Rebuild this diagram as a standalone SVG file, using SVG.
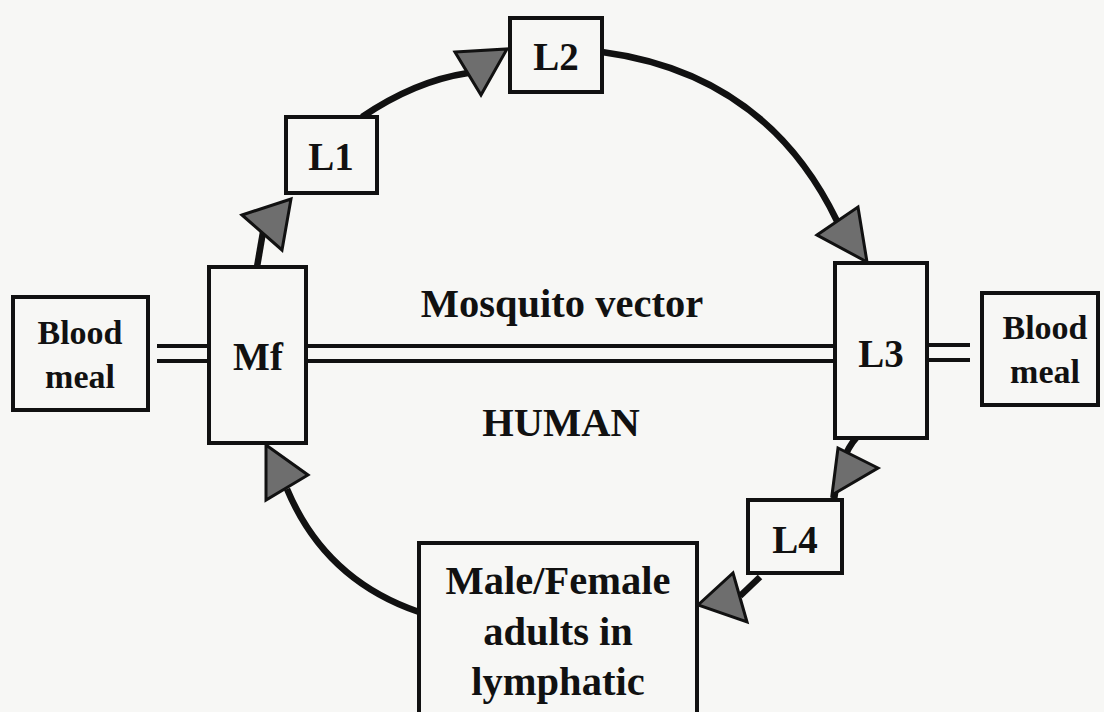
<svg xmlns="http://www.w3.org/2000/svg" width="1104" height="712" viewBox="0 0 1104 712">
<style>
.box{fill:#f7f7f5;stroke:#111;stroke-width:4}
.t{font-weight:bold;fill:#111;text-anchor:middle}
.big{font-size:39px}
.lg{font-size:40.5px}
.sm{font-size:34px}
.con{fill:none;stroke:#111;stroke-width:6.5}
.dbl{stroke:#111;stroke-width:4}
.ah{fill:#6e6e6e;stroke:#111;stroke-width:3;stroke-linejoin:miter}
</style>
<rect width="1104" height="712" fill="#f7f7f5"/>
<g id="connectors">
  <line class="dbl" x1="157" y1="346" x2="209" y2="346"/>
  <line class="dbl" x1="157" y1="361" x2="209" y2="361"/>
  <line class="dbl" x1="306" y1="346" x2="835" y2="346"/>
  <line class="dbl" x1="306" y1="361" x2="835" y2="361"/>
  <line class="dbl" x1="927" y1="345" x2="970" y2="345"/>
  <line class="dbl" x1="927" y1="360" x2="970" y2="360"/>
  <path class="con" d="M257,267 L263,232"/>
  <path class="con" d="M362,117 Q415,81 468,73"/>
  <path class="con" d="M602,52 Q766,74 837,221"/>
  <path class="con" d="M857,437 Q840,455 834,500"/>
  <path class="con" d="M760,577 L740,596"/>
  <path class="con" d="M419,612 Q325,580 287,489"/>
  <polygon class="ah" points="242,215 291,199 282,250"/>
  <polygon class="ah" points="455,52 507,49 481,95"/>
  <polygon class="ah" points="817,235 858,207 867,262"/>
  <polygon class="ah" points="838,448 878,468 832,495"/>
  <polygon class="ah" points="698,605 733,573 747,622"/>
  <polygon class="ah" points="266,445 308,475 266,500"/>
</g>
<g font-family="Liberation Serif, Times New Roman, DejaVu Serif, serif">
<g id="blood-meal-left">
  <rect class="box" x="13" y="297" width="135" height="113"/>
  <text class="t sm" x="80" y="344">Blood</text>
  <text class="t sm" x="80" y="388">meal</text>
</g>
<g id="mf">
  <rect class="box" x="209" y="267" width="97" height="176"/>
  <text class="t big" x="258" y="370">Mf</text>
</g>
<g id="l1">
  <rect class="box" x="286" y="117" width="91" height="76"/>
  <text class="t big" x="331" y="170">L1</text>
</g>
<g id="l2">
  <rect class="box" x="510" y="18" width="92" height="74"/>
  <text class="t big" x="556" y="70">L2</text>
</g>
<g id="l3">
  <rect class="box" x="835" y="263" width="92" height="175"/>
  <text class="t big" x="881" y="367">L3</text>
</g>
<g id="blood-meal-right">
  <rect class="box" x="982" y="293" width="116" height="112"/>
  <text class="t sm" x="1045" y="339">Blood</text>
  <text class="t sm" x="1045" y="383">meal</text>
</g>
<g id="l4">
  <rect class="box" x="748" y="500" width="94" height="73"/>
  <text class="t big" x="795" y="553">L4</text>
</g>
<g id="adults">
  <rect class="box" x="419" y="543" width="278" height="200"/>
  <text class="t lg" x="558" y="594">Male/Female</text>
  <text class="t lg" x="558" y="645">adults in</text>
  <text class="t lg" x="558" y="695">lymphatic</text>
</g>
<g id="labels">
  <text class="t lg" x="562" y="317">Mosquito vector</text>
  <text class="t lg" x="561" y="436">HUMAN</text>
</g>
</g>
</svg>
